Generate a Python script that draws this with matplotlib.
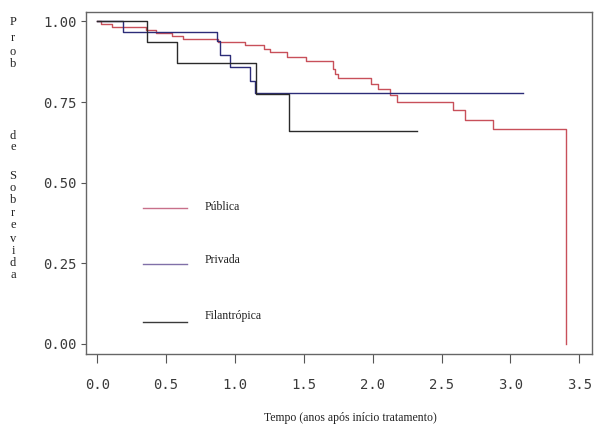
import matplotlib
matplotlib.use('Agg')
import matplotlib.pyplot as plt

# Kaplan-Meier steps (time in years, survival prob)
publica_t = [0, 0.025, 0.105, 0.354, 0.426, 0.540, 0.620, 0.877, 1.073, 1.211, 1.254,
             1.375, 1.516, 1.709, 1.726, 1.750, 1.985, 2.041, 2.126, 2.174, 2.585,
             2.670, 2.871, 3.402]
publica_s = [1.0, 0.992, 0.983, 0.973, 0.965, 0.954, 0.944, 0.936, 0.927, 0.913, 0.904,
             0.890, 0.878, 0.852, 0.838, 0.824, 0.805, 0.789, 0.772, 0.749, 0.725,
             0.694, 0.665, 0.0]

privada_t = [0, 0.189, 0.867, 0.891, 0.964, 1.109, 1.145, 3.089]
privada_s = [1.0, 0.968, 0.940, 0.896, 0.859, 0.815, 0.777, 0.777]

filantropica_t = [0, 0.363, 0.581, 1.153, 1.394, 2.32]
filantropica_s = [1.0, 0.937, 0.870, 0.775, 0.661, 0.661]

group_names = ['Pública', 'Privada', 'Filantrópica']
colors = ['#c8505a', '#2c2c78', '#2a2a2a']
legend_colors = ['#c8708a', '#8070a8', '#3a3a3a']

x_ticks = [0.0, 0.5, 1.0, 1.5, 2.0, 2.5, 3.0, 3.5]
x_tick_labels = ['0.0', '0.5', '1.0', '1.5', '2.0', '2.5', '3.0', '3.5']
y_ticks = [0.0, 0.25, 0.5, 0.75, 1.0]
y_tick_labels = ['0.00', '0.25', '0.50', '0.75', '1.00']

W, H = 597, 432
fig = plt.figure(figsize=(W / 100, H / 100), dpi=100)
ax = fig.add_axes([85.7 / W, 1 - 354 / H, (592 - 85.7) / W, (354 - 12) / H])

series = [(publica_t, publica_s), (privada_t, privada_s), (filantropica_t, filantropica_s)]
for (t, s), c in zip(series, colors):
    ax.step(t, s, where='post', color=c, lw=1.0)

ax.set_xlim(-0.084, 3.592)
ax.set_ylim(-0.031, 1.029)

ax.set_xticks(x_ticks)
ax.set_xticklabels(x_tick_labels)
ax.set_yticks(y_ticks)
ax.set_yticklabels(y_tick_labels)
ax.tick_params(axis='x', direction='out', length=6.5, width=0.8, pad=11, color='#555555')
ax.tick_params(axis='y', direction='out', length=3.5, width=0.8, pad=3, color='#555555')
for lab in ax.get_xticklabels() + ax.get_yticklabels():
    lab.set_fontfamily('DejaVu Sans Mono')
    lab.set_fontsize(10)
    lab.set_color('#3a3a3a')

for sp in ax.spines.values():
    sp.set_color('#666666')
    sp.set_linewidth(1.0)

# legend drawn inside the plot, SAS style (line level, text level)
leg_line_y = [0.421, 0.248, 0.068]
leg_text_y = [0.424, 0.260, 0.087]
for name, c, ly, ty in zip(group_names, legend_colors, leg_line_y, leg_text_y):
    ax.plot([0.33, 0.65], [ly, ly], color=c, lw=1.0)
    ax.text(0.776, ty, name, family='Liberation Serif', fontsize=8.5,
            va='center', ha='left', color='#222222')

# x label
fig.text(350 / W, 1 - 418 / H, 'Tempo (anos após início tratamento)',
         family='Liberation Serif', fontsize=8.5, ha='center', va='center', color='#222222')

# y label, stacked letter by letter
ylab_letters = list('ProbdeSobrevida')
ylab_rows = [22, 38, 52, 64, 136, 147, 176, 188, 200, 213, 225, 239, 251, 263, 275]
for ch, yy in zip(ylab_letters, ylab_rows):
    fig.text(13 / W, 1 - yy / H, ch, family='Liberation Serif', fontsize=9,
             ha='center', va='center', color='#222222')

fig.savefig('out.png', dpi=100)
